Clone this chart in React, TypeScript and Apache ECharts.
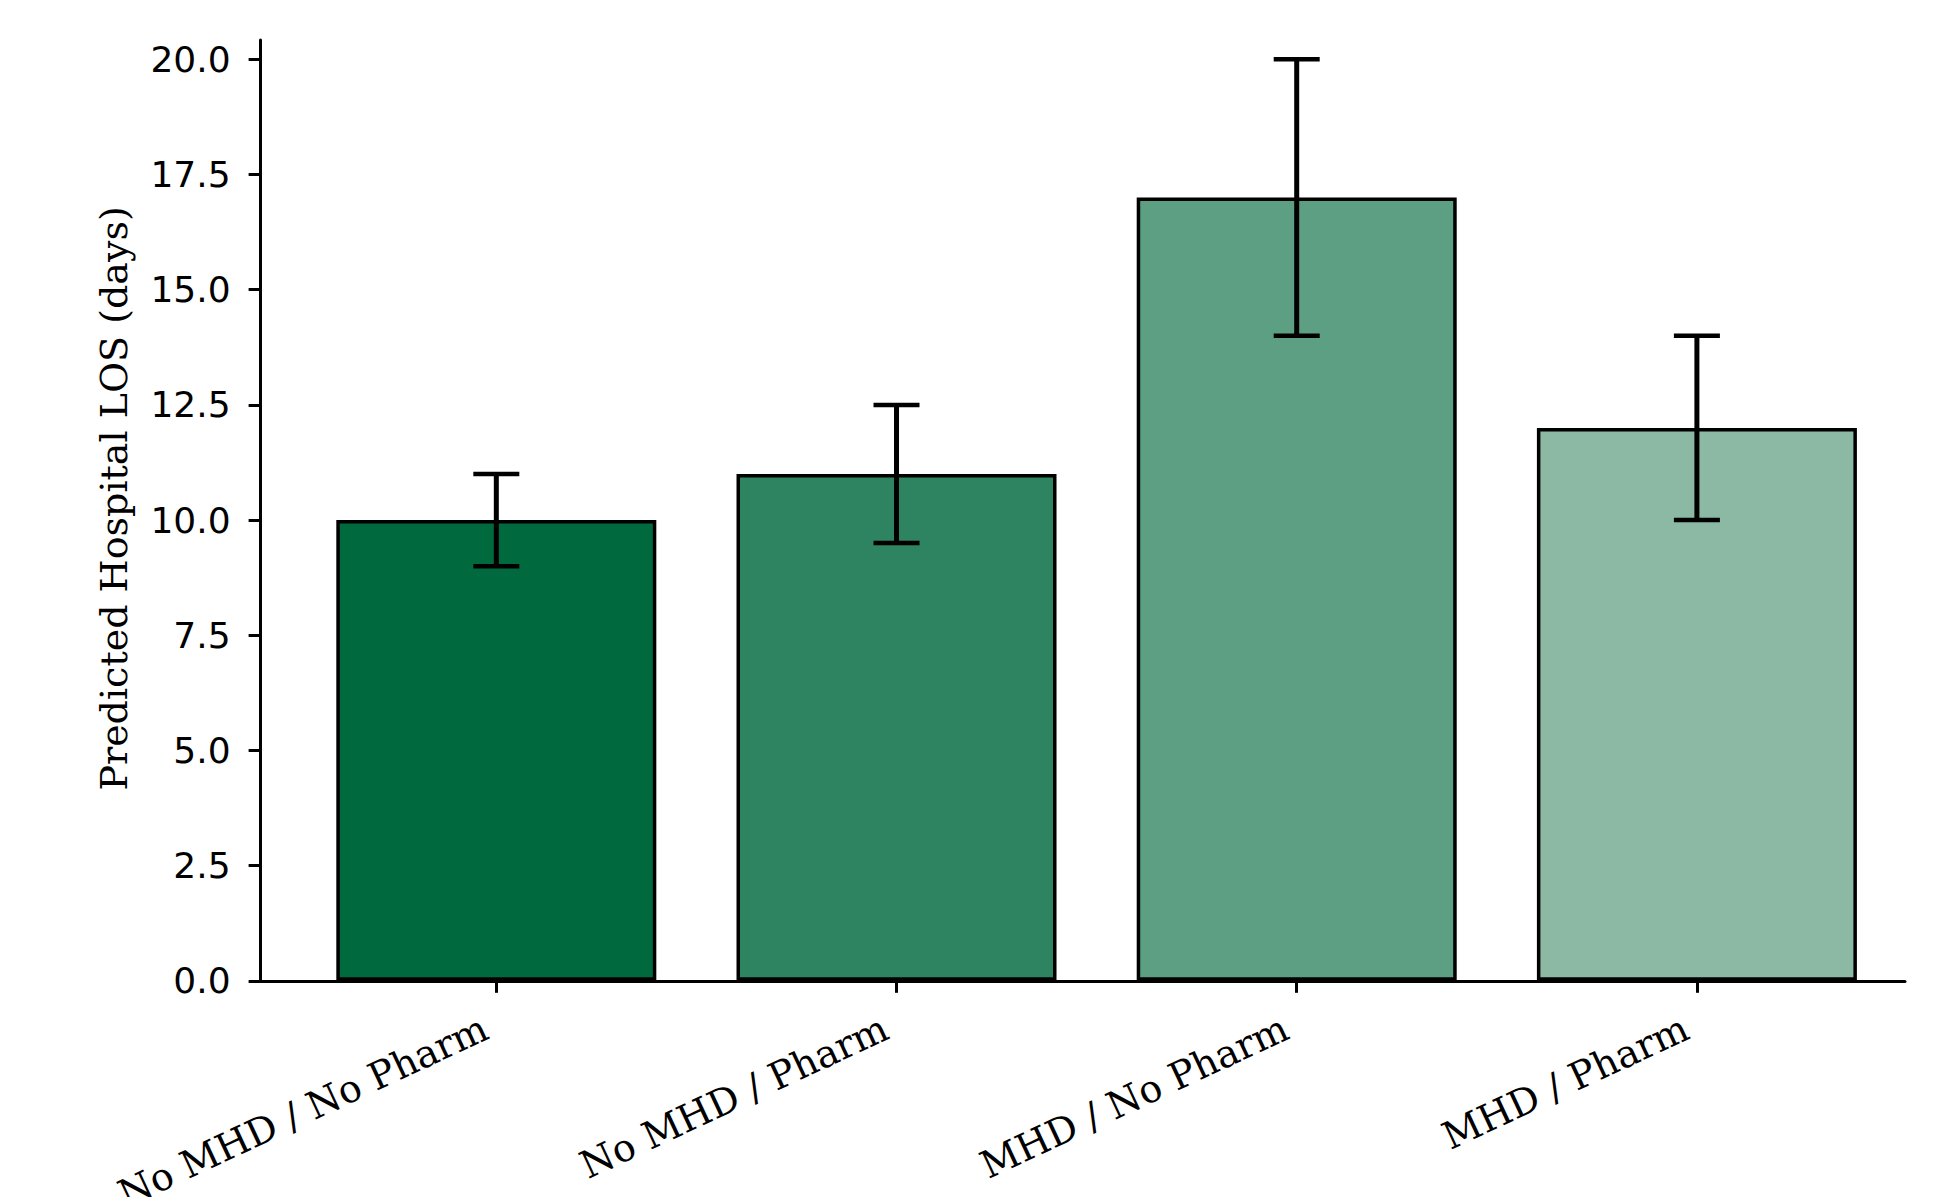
import React, { useEffect, useRef } from "react";
import * as echarts from "echarts";

const categories = ["No MHD / No Pharm", "No MHD / Pharm", "MHD / No Pharm", "MHD / Pharm"];
const values = [10, 11, 17, 12];
const errLow = [9, 9.5, 14, 10];
const errHigh = [11, 12.5, 20, 14];
const barColors = ["#006a3e", "#2e8461", "#5c9f82", "#8bb9a4"];
const yTicks = [0, 2.5, 5, 7.5, 10, 12.5, 15, 17.5, 20];
const xTicks = [0, 1, 2, 3];

export default function App() {
  const ref = useRef<HTMLDivElement>(null);
  useEffect(() => {
    const chart = echarts.init(ref.current!, null, { renderer: "svg" });
    chart.setOption({
      animation: false,
      backgroundColor: "#ffffff",
      grid: {
        left: 260.6,
        top: 40,
        width: 1644.4,
        height: 940.8,
        containLabel: false,
        outerBoundsMode: "none",
      },
      xAxis: {
        type: "value",
        min: -0.589,
        max: 3.52,
        splitLine: { show: false },
        axisLine: { show: true, onZero: false, lineStyle: { color: "#000", width: 3 } },
        axisTick: { show: true, customValues: xTicks, length: 12, lineStyle: { color: "#000", width: 3 } },
        axisLabel: {
          customValues: xTicks,
          formatter: (v: number) => categories[Math.round(v)] ?? "",
          rotate: 25,
          margin: 40,
          padding: [0, 12, 0, 0],
          fontFamily: "DejaVu Serif",
          fontSize: 38,
          color: "#000",
        },
      },
      yAxis: {
        type: "value",
        min: 0,
        max: 20.42,
        splitLine: { show: false },
        axisLine: { show: true, onZero: false, lineStyle: { color: "#000", width: 3 } },
        axisTick: { show: true, customValues: yTicks, length: 12, lineStyle: { color: "#000", width: 3 } },
        axisLabel: {
          customValues: yTicks,
          formatter: (v: number) => v.toFixed(1),
          margin: 30,
          fontFamily: "DejaVu Sans",
          fontSize: 36,
          color: "#000",
        },
        name: "Predicted Hospital LOS (days)",
        nameLocation: "middle",
        nameGap: 128,
        nameTextStyle: {
          fontFamily: "DejaVu Serif",
          fontSize: 38,
          color: "#000",
          padding: [0, 0, 0, 24],
        },
      },
      series: [
        {
          type: "bar",
          barWidth: 320,
          data: values.map((v, i) => ({ value: [i, v], itemStyle: { color: barColors[i] } })),
          itemStyle: { borderColor: "#000", borderWidth: 3.5 },
          z: 2,
        },
        {
          type: "custom",
          data: xTicks.map((x, i) => [x, errLow[i], errHigh[i]]),
          encode: { x: 0, y: [1, 2] },
          clip: false,
          z: 10,
          renderItem: (params: any, api: any) => {
            const x = api.value(0);
            const lo = api.coord([x, api.value(1)]);
            const hi = api.coord([x, api.value(2)]);
            const half = 23;
            const cap = { stroke: "#000", lineWidth: 4.5 };
            return {
              type: "group",
              children: [
                { type: "line", shape: { x1: lo[0], y1: lo[1], x2: hi[0], y2: hi[1] }, style: { stroke: "#000", lineWidth: 5 } },
                { type: "line", shape: { x1: lo[0] - half, y1: lo[1], x2: lo[0] + half, y2: lo[1] }, style: cap },
                { type: "line", shape: { x1: hi[0] - half, y1: hi[1], x2: hi[0] + half, y2: hi[1] }, style: cap },
              ],
            };
          },
        },
      ],
    });
    return () => chart.dispose();
  }, []);
  return (
    <div
      ref={ref}
      style={{ position: "fixed", left: 0, top: 0, width: 1937, height: 1197, background: "#fff" }}
    />
  );
}
